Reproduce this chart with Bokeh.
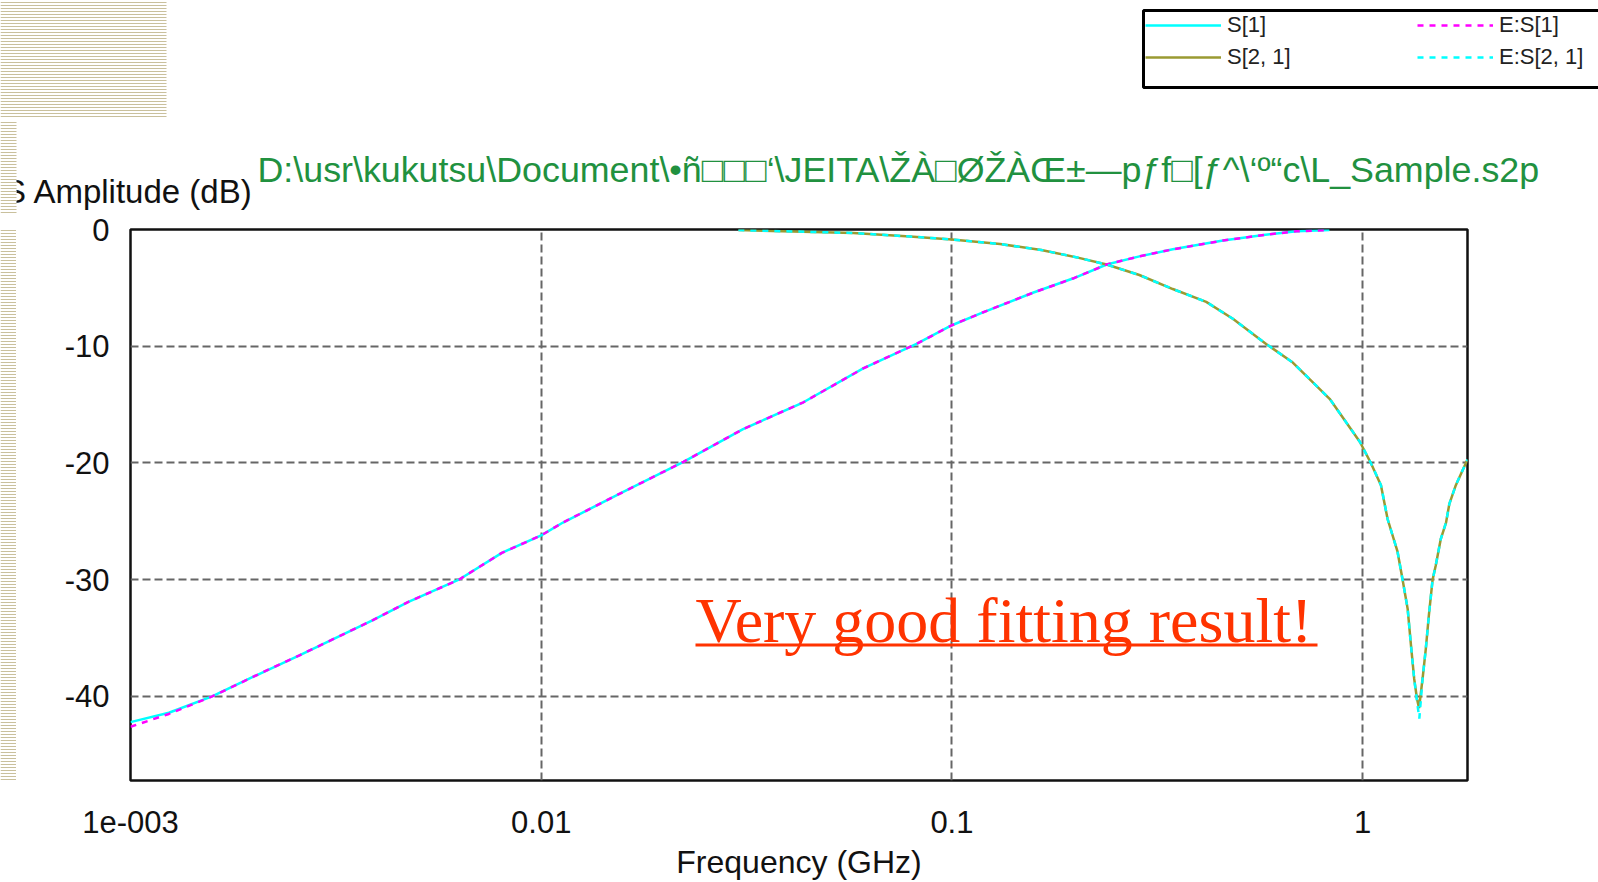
from bokeh.plotting import figure
from bokeh.models import Label, BoxAnnotation, Legend, LegendItem, FixedTicker, Range1d
from bokeh.layouts import column, row
from bokeh.embed import file_html
from bokeh.resources import INLINE

# ---------------- data ----------------
s11_freq = [0.001, 0.00124, 0.00158, 0.00205, 0.00257, 0.00387, 0.00475, 0.0063, 0.00802, 0.01,
            0.0113, 0.0158, 0.0222, 0.031, 0.0435, 0.0608, 0.082, 0.1, 0.117, 0.158,
            0.197, 0.238, 0.286, 0.345, 0.457, 0.58, 0.69, 0.83]
s11_db = [-42.2, -41.4, -40.0, -38.1, -36.5, -33.5, -31.9, -30.0, -27.7, -26.2,
          -25.1, -22.5, -19.9, -17.1, -14.8, -11.9, -9.8, -8.2, -7.2, -5.4,
          -4.2, -3.0, -2.3, -1.7, -0.95, -0.45, -0.15, -0.05]

es11_freq = [0.001, 0.00124, 0.00158, 0.00205, 0.00257, 0.00387, 0.00475, 0.0063, 0.00802, 0.01,
             0.0113, 0.0158, 0.0222, 0.031, 0.0435, 0.0608, 0.082, 0.1, 0.117, 0.158,
             0.197, 0.238, 0.286, 0.345, 0.457, 0.58, 0.69, 0.83]
es11_db = [-42.6, -41.5, -40.0, -38.1, -36.5, -33.5, -31.9, -30.0, -27.7, -26.2,
           -25.1, -22.5, -19.9, -17.1, -14.8, -11.9, -9.8, -8.2, -7.2, -5.4,
           -4.2, -3.0, -2.3, -1.7, -0.95, -0.45, -0.15, -0.05]

s21_freq = [0.0302, 0.0575, 0.079, 0.1, 0.131, 0.165, 0.205, 0.238, 0.286, 0.345,
            0.416, 0.483, 0.582, 0.676, 0.831, 0.985, 1.047, 1.108, 1.15, 1.216,
            1.251, 1.287, 1.311, 1.335, 1.356, 1.372, 1.40, 1.425, 1.45, 1.48,
            1.506, 1.55, 1.596, 1.626, 1.686, 1.784, 1.8]
s21_db = [-0.05, -0.3, -0.6, -0.85, -1.25, -1.75, -2.45, -3.0, -3.9, -5.1,
          -6.2, -7.65, -9.8, -11.4, -14.5, -18.2, -20.0, -21.9, -24.8, -27.6,
          -30.0, -32.5, -35.6, -38.5, -40.2, -41.0, -38.4, -35.9, -33.0, -30.0,
          -28.8, -26.5, -25.1, -23.5, -21.9, -20.0, -19.7]

es21_freq = [0.0302, 0.0575, 0.079, 0.1, 0.131, 0.165, 0.205, 0.238, 0.286, 0.345,
             0.416, 0.483, 0.582, 0.676, 0.831, 0.985, 1.047, 1.108, 1.15, 1.216,
             1.251, 1.287, 1.311, 1.335, 1.356, 1.374, 1.40, 1.425, 1.45, 1.48,
             1.506, 1.55, 1.596, 1.626, 1.686, 1.784, 1.8]
es21_db = [-0.05, -0.3, -0.6, -0.85, -1.25, -1.75, -2.45, -3.0, -3.9, -5.1,
           -6.2, -7.65, -9.8, -11.4, -14.5, -18.2, -20.0, -21.9, -24.8, -27.6,
           -30.0, -32.5, -35.6, -38.5, -40.4, -41.9, -38.4, -35.9, -33.0, -30.0,
           -28.8, -26.5, -25.1, -23.5, -21.9, -20.0, -19.7]

x_ticks = [0.001, 0.01, 0.1, 1.0]
x_tick_labels = ["1e-003", "0.01", "0.1", "1"]
y_ticks = [0, -10, -20, -30, -40]
y_tick_labels = ["0", "-10", "-20", "-30", "-40"]

legend_labels = ["S[1]", "S[2, 1]", "E:S[1]", "E:S[2, 1]"]
title_text = "D:\\usr\\kukutsu\\Document\\\u2022\u00f1\u25a1\u25a1\u25a1\u2018\\JEITA\\\u017d\u00c0\u25a1\u00d8\u017d\u00c0\u0152\u00b1\u2014p\u0192f\u25a1[\u0192^\\\u2018\u00ba\u201cc\\L_Sample.s2p"
x_title = "Frequency (GHz)"
y_title = "S Amplitude (dB)"
note_text = "Very good fitting result!"

# ---------------- styles ----------------
SANS = "Liberation Sans"
S11_COLOR, S21_COLOR, ES11_COLOR, ES21_COLOR = "#00FFFF", "#9A9A32", "#FF00FF", "#00FFFF"
LW, DASH = 2.5, "6 6"
SCR = dict(left_units="screen", right_units="screen", top_units="screen", bottom_units="screen")
STRIPE = dict(fill_color="white", fill_alpha=1, line_color=None,
              hatch_pattern="horizontal_line", hatch_scale=3, hatch_weight=1,
              hatch_color="#C9C09C", hatch_alpha=1)

TOTAL_W, TOTAL_H = 1598, 882
HEAD_H = 213           # header strip (title, legend, template decoration)
STRIP_W = 16           # template stripe on the left edge
FL, FT, FR, FB = 130, 229, 1467, 780   # plot frame on the page


def bare_figure(w, h):
    f = figure(width=w, height=h, x_range=Range1d(0, 1), y_range=Range1d(0, 1),
               output_backend="svg", toolbar_location=None, title=None,
               x_axis_location=None, y_axis_location=None, min_border=0)
    f.grid.visible = False
    f.outline_line_color = None
    f.background_fill_color = "white"
    f.border_fill_color = "white"
    return f


# ---------------- main plot ----------------
MAIN_W, MAIN_H = TOTAL_W - STRIP_W, TOTAL_H - HEAD_H
p = figure(width=MAIN_W, height=MAIN_H, x_axis_type="log",
           x_range=Range1d(0.001, 1.8), y_range=Range1d(-47.2, 0),
           output_backend="svg", toolbar_location=None, title=None,
           min_border_left=FL - STRIP_W, min_border_right=MAIN_W - (FR - STRIP_W),
           min_border_top=FT - HEAD_H, min_border_bottom=MAIN_H - (FB - HEAD_H))
p.background_fill_color = "white"
p.border_fill_color = "white"
p.outline_line_color = "#111111"
p.outline_line_width = 2.5

for ax in (p.xaxis[0], p.yaxis[0]):
    ax.axis_line_color = None
    ax.major_tick_line_color = None
    ax.minor_tick_line_color = None
    ax.major_tick_out = 0
    ax.major_tick_in = 0
    ax.major_label_text_font = SANS
    ax.major_label_text_font_size = "31px"
    ax.major_label_text_color = "#111111"

p.xaxis.ticker = FixedTicker(ticks=x_ticks)
p.xaxis.major_label_overrides = dict(zip(x_ticks, x_tick_labels))
p.xaxis.major_label_standoff = 30
p.xaxis.axis_label = x_title
p.xaxis.axis_label_text_font = SANS
p.xaxis.axis_label_text_font_size = "32px"
p.xaxis.axis_label_text_font_style = "normal"
p.xaxis.axis_label_text_color = "#111111"
p.xaxis.axis_label_standoff = 8
p.yaxis.ticker = FixedTicker(ticks=y_ticks)
p.yaxis.major_label_overrides = dict(zip(y_ticks, y_tick_labels))
p.yaxis.major_label_standoff = 21

for g in (p.xgrid[0], p.ygrid[0]):
    g.grid_line_color = "#666666"
    g.grid_line_width = 2
    g.grid_line_dash = "8 4"
p.xgrid.ticker = FixedTicker(ticks=x_ticks)
p.ygrid.ticker = FixedTicker(ticks=y_ticks)

p.line(s11_freq, s11_db, line_color=S11_COLOR, line_width=LW)
p.line(s21_freq, s21_db, line_color=S21_COLOR, line_width=LW)
p.line(es11_freq, es11_db, line_color=ES11_COLOR, line_width=LW, line_dash=DASH)
p.line(es21_freq, es21_db, line_color=ES21_COLOR, line_width=LW, line_dash=DASH)

p.add_layout(Label(x=565, y=160, x_units="screen", y_units="screen", text=note_text,
                   text_font="Liberation Serif", text_font_size="64px", text_color="#FF3300",
                   text_align="left", text_baseline="alphabetic"))
p.add_layout(BoxAnnotation(left=565, right=1187, top=137, bottom=134, **SCR,
                           fill_color="#FF3300", fill_alpha=1, line_color=None))

# ---------------- header: title, y title, legend, decoration ----------------
hdr = bare_figure(TOTAL_W, HEAD_H)
hdr.add_layout(Label(x=257, y=44, x_units="screen", y_units="screen", text=title_text,
                     text_font=SANS, text_font_size="35.8px", text_color="#21913F",
                     text_align="left", text_baseline="alphabetic"))
hdr.add_layout(Label(x=253, y=22, x_units="screen", y_units="screen", text=y_title,
                     text_font=SANS, text_font_size="33px", text_color="#111111",
                     text_align="right", text_baseline="alphabetic"))

# legend: key renderers carry the same series and styles; the header's ranges keep them out of view
k1 = hdr.line(s11_freq, s11_db, line_color=S11_COLOR, line_width=LW)
k2 = hdr.line(s21_freq, s21_db, line_color=S21_COLOR, line_width=LW)
k3 = hdr.line(es11_freq, es11_db, line_color=ES11_COLOR, line_width=LW, line_dash=DASH)
k4 = hdr.line(es21_freq, es21_db, line_color=ES21_COLOR, line_width=LW, line_dash=DASH)
hdr.add_layout(BoxAnnotation(left=1143, right=1660, top=HEAD_H - 10, bottom=HEAD_H - 87, **SCR,
                             fill_color="white", fill_alpha=1,
                             line_color="black", line_alpha=1, line_width=3))
legend = Legend(items=[LegendItem(label=legend_labels[0], renderers=[k1]),
                       LegendItem(label=legend_labels[1], renderers=[k2]),
                       LegendItem(label=legend_labels[2], renderers=[k3]),
                       LegendItem(label=legend_labels[3], renderers=[k4])],
                location=(1145, HEAD_H - 9 - 64), ncols=2, orientation="vertical",
                glyph_width=76, glyph_height=32, label_height=32, label_width=190,
                label_standoff=6, spacing=0, padding=0, margin=0,
                border_line_alpha=0, background_fill_alpha=0,
                label_text_font=SANS, label_text_font_size="22px",
                label_text_color="#222222")
hdr.add_layout(legend)

# slide-template stripes (drawn on top so they mask the start of the y title, as in the slide)
hdr.add_layout(BoxAnnotation(left=0, right=166, top=HEAD_H, bottom=HEAD_H - 118, **SCR,
                             level="overlay", **STRIPE))
hdr.add_layout(BoxAnnotation(left=0, right=STRIP_W, top=HEAD_H - 121, bottom=0, **SCR,
                             level="overlay", **STRIPE))

strip = bare_figure(STRIP_W, MAIN_H)
strip.add_layout(BoxAnnotation(left=0, right=STRIP_W, top=MAIN_H, bottom=0, **SCR, **STRIPE))

layout = column(hdr, row(strip, p, spacing=0), spacing=0)
open("out.html", "w").write(file_html(layout, INLINE))
